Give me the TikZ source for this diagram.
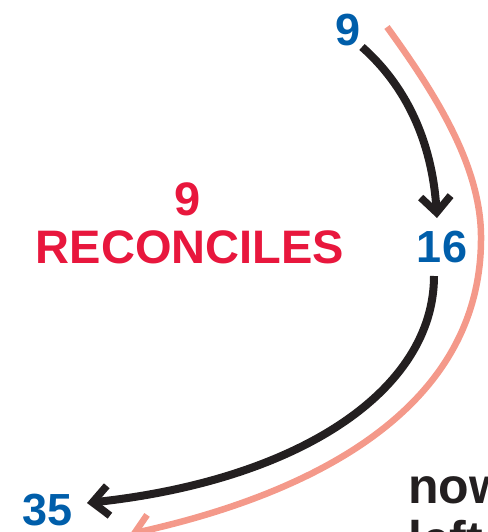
\documentclass[tikz,border=0pt]{standalone}
\usepackage{fontspec}
\setmainfont{Liberation Sans}
\usetikzlibrary{arrows.meta}
\definecolor{numblue}{RGB}{0,94,170}
\definecolor{recred}{RGB}{232,23,61}
\definecolor{salmon}{RGB}{244,153,138}
\definecolor{ink}{RGB}{35,31,32}
\tikzset{
  num/.style={font=\bfseries\fontsize{45}{48}\selectfont, text=numblue, inner sep=0pt, anchor=base},
  redtxt/.style={font=\bfseries\fontsize{47}{48}\selectfont, text=recred, inner sep=0pt, anchor=base},
  bodytxt/.style={font=\bfseries\fontsize{50}{55}\selectfont, text=ink, inner sep=0pt, anchor=base west},
  blk/.style={draw=ink, line width=8pt, -{Straight Barb[length=16pt, width=30pt, line width=7.5pt]}},
  sal/.style={draw=salmon, line width=6.5pt, -{Straight Barb[length=16pt, width=30pt, line width=6.5pt]}}
}
\begin{document}
\begin{tikzpicture}[x=1pt, y=-1pt]
\useasboundingbox (0,0) rectangle (487,532);
\node[num] (n9) at (348,46) {9};
\node[num] (n16) at (442,262) {16};
\node[num] (n35) at (48,525) {35};
\node[redtxt] (r9) at (188,215) {9};
\node[redtxt] (rec) at (190,263) {RECONCILES};
\node[bodytxt] (now) at (408,503) {now};
\node[bodytxt] (left) at (408,556) {left};
\coordinate (s1) at (362,47);
\coordinate (e1) at (437,218);
\coordinate (s2) at (434,276);
\coordinate (e2) at (87,503);
\coordinate (p0) at (387,27);
\coordinate (p1) at (481,240);
\coordinate (p2) at (130,534);
\draw[blk] (s1) .. controls (405,85) and (432,140) .. (e1);
\draw[blk] (s2) .. controls (434,390) and (300,480) .. (e2);
\draw[sal] (p0) .. controls (440,100) and (482,170) .. (p1) .. controls (480,400) and (330,490) .. (p2);
\end{tikzpicture}
\end{document}
